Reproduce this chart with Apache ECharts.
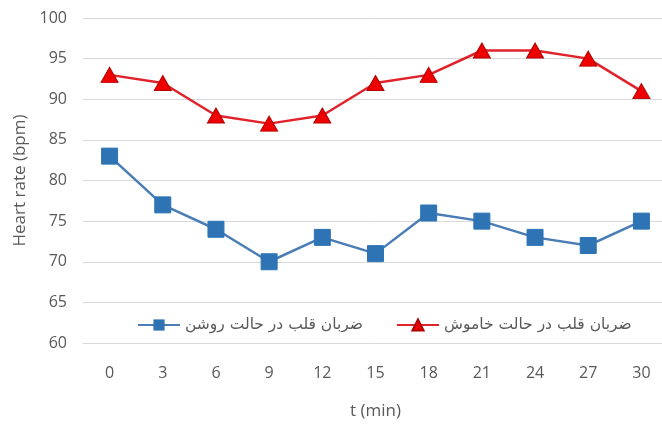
<!DOCTYPE html>
<html>
<head>
<meta charset="utf-8">
<script src="https://cdn.jsdelivr.net/npm/echarts@6/dist/echarts.min.js"></script>
<style>html,body{margin:0;padding:0;background:#fff;overflow:hidden}#c{width:668px;height:428px}</style>
</head>
<body>
<div id="c"></div>
<script>
const categories = ['0','3','6','9','12','15','18','21','24','27','30'];
const lightOn = [83, 77, 74, 70, 73, 71, 76, 75, 73, 72, 75];
const lightOff = [93, 92, 88, 87, 88, 92, 93, 96, 96, 95, 91];
const seriesNames = ['ضربان قلب در حالت روشن', 'ضربان قلب در حالت خاموش'];
const xName = 't (min)';
const yName = 'Heart rate (bpm)';

const chart = echarts.init(document.getElementById('c'), null, {renderer: 'canvas'});
const grey = '#595959';
chart.setOption({
  animation: false,
  backgroundColor: '#fff',
  grid: {left: 83, top: 18, right: 0, bottom: 85, containLabel: false},
  legend: {
    left: 137, top: 317, padding: 0,
    itemWidth: 42, itemHeight: 14, itemGap: 33,
    textStyle: {color: grey, fontSize: 15.5, fontFamily: 'DejaVu Sans'},
    data: seriesNames
  },
  xAxis: {
    type: 'category', data: categories, boundaryGap: true,
    axisLine: {show: false}, axisTick: {show: false},
    axisLabel: {color: grey, fontSize: 16, margin: 22, fontFamily: 'Open Sans'},
    name: xName, nameLocation: 'middle', nameGap: 60,
    nameTextStyle: {color: grey, fontSize: 17, fontFamily: 'Open Sans'}
  },
  yAxis: {
    type: 'value', min: 60, max: 100, interval: 5,
    axisLine: {show: false}, axisTick: {show: false},
    axisLabel: {color: grey, fontSize: 16, margin: 16, fontFamily: 'Open Sans'},
    splitLine: {lineStyle: {color: '#d9d9d9', width: 1}},
    name: yName, nameLocation: 'middle', nameGap: 52, nameRotate: 90,
    nameTextStyle: {color: grey, fontSize: 17, fontFamily: 'Open Sans'}
  },
  series: [
    {
      name: seriesNames[0], type: 'line', data: lightOn,
      symbol: 'rect', symbolSize: 16,
      lineStyle: {color: '#4a7db5', width: 2.5},
      itemStyle: {color: '#2e74b5', borderColor: '#2e74b5'}
    },
    {
      name: seriesNames[1], type: 'line', data: lightOff,
      symbol: 'triangle', symbolSize: [17, 15],
      lineStyle: {color: '#e0232b', width: 2.5},
      itemStyle: {color: '#ee0000', borderColor: '#b00000', borderWidth: 1}
    }
  ]
});
</script>
</body>
</html>
